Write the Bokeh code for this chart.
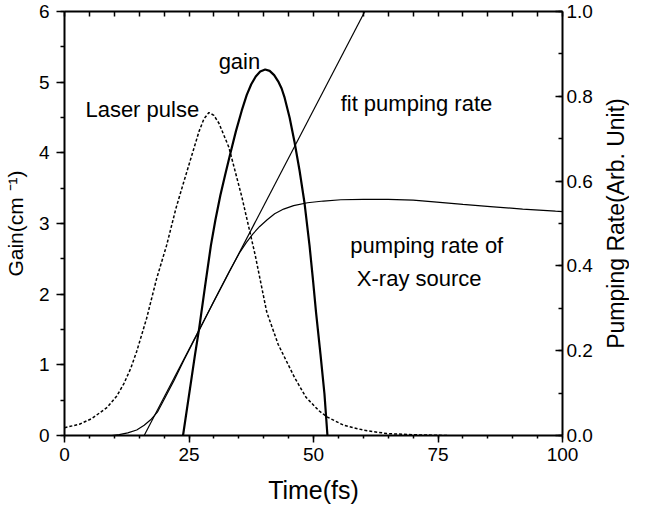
from bokeh.plotting import figure
from bokeh.layouts import row
from bokeh.models import (Range1d, LinearAxis, SingleIntervalTicker, FixedTicker,
                          NumeralTickFormatter, Label, Title)
from bokeh.embed import file_html
from bokeh.resources import INLINE

# ---- data ----
laser_t = [0, 3, 5.5, 8.6, 10.5, 11.9, 13.3, 14.5, 16.5, 18.5, 20.5, 22.4, 24, 25.5, 27, 28, 29,
           30, 31, 33, 35.6, 38.3, 40.6, 42.9, 46.2, 48.5, 51.1, 52.8, 56.1, 60.1, 64.7, 70, 77]
laser_gain = [0.11, 0.16, 0.24, 0.40, 0.56, 0.73, 0.95, 1.19, 1.66, 2.22, 2.69, 3.22, 3.6, 3.95, 4.3,
              4.48, 4.57, 4.53, 4.42, 4.08, 3.38, 2.55, 1.75, 1.29, 0.82, 0.54, 0.35, 0.26, 0.144,
              0.075, 0.028, 0.01, 0.0]

gain_t = [23.8, 24.6, 25.4, 26.2, 27.05, 28.2, 29.4, 30.3, 31.3, 32.3, 33.3, 34.4, 35.6, 36.6,
          37.5, 38.4, 39.3, 40.3, 41.2, 42.1, 43.0, 43.6, 44.2, 45.2, 46.2, 47.2, 48.2, 49.2,
          49.9, 50.5, 51.4, 52.2, 52.8]
gain_val = [0.0, 0.38, 0.76, 1.14, 1.52, 2.1, 2.69, 3.05, 3.4, 3.70, 3.99, 4.3, 4.6, 4.82,
            4.97, 5.08, 5.15, 5.18, 5.16, 5.1, 5.0, 4.91, 4.78, 4.5, 4.15, 3.75, 3.29, 2.69,
            2.2, 1.75, 1.15, 0.59, 0.0]

pump_t = [9.5, 11, 12.7, 14.5, 16, 17.3, 18.65, 20, 22, 24, 26.9, 30, 33, 35.2, 36.5, 37.8,
          39.2, 40.7, 42.2, 44, 46, 48.8, 52, 55.5, 60, 65, 70, 74.2, 80, 85.5, 92, 98.6, 100]
pump_val = [0.0, 0.002, 0.0063, 0.013, 0.024, 0.037, 0.055, 0.085, 0.13, 0.178, 0.245, 0.317,
            0.385, 0.432, 0.455, 0.475, 0.493, 0.509, 0.523, 0.534, 0.542, 0.549, 0.553, 0.556,
            0.557, 0.557, 0.555, 0.551, 0.545, 0.540, 0.534, 0.529, 0.528]

fit_t = [16.0, 60.3]
fit_val = [0.0, 1.0]

top_ticks = [0, 5, 10, 15, 20, 25, 30, 35, 40, 45, 50, 55, 60, 65, 70, 75, 80, 85, 90, 95, 100]

FONT = "Liberation Sans"
TOP, BOTTOM = 11, 74

p = figure(width=595, height=509, output_backend="svg", toolbar_location=None,
           x_range=Range1d(0, 100), y_range=Range1d(0, 6),
           min_border_left=59, min_border_right=31, min_border_top=TOP, min_border_bottom=BOTTOM,
           background_fill_color="white", border_fill_color="white")
p.extra_y_ranges = {"pump": Range1d(0, 1)}
p.grid.visible = False
p.outline_line_color = None


def style(ax, tin, tout, size="19px"):
    ax.axis_line_width = 2
    ax.axis_line_color = "black"
    ax.major_tick_line_width = 1.5
    ax.minor_tick_line_width = 1.5
    ax.major_tick_line_color = "black"
    ax.minor_tick_line_color = "black"
    ax.major_tick_in = tin
    ax.major_tick_out = tout
    ax.minor_tick_in = tin // 2
    ax.minor_tick_out = tout // 2
    ax.major_label_text_font = FONT
    ax.major_label_text_font_size = size
    ax.major_label_text_color = "black"
    ax.axis_label_text_font = FONT
    ax.axis_label_text_font_style = "normal"
    ax.axis_label_text_color = "black"


xb = p.xaxis[0]
xb.ticker = SingleIntervalTicker(interval=25, num_minor_ticks=5)
style(xb, 0, 7)
xb.major_label_standoff = 5
xb.axis_label = "Time(fs)"
xb.axis_label_text_font_size = "25px"
xb.axis_label_standoff = 12

yl = p.yaxis[0]
yl.ticker = SingleIntervalTicker(interval=1, num_minor_ticks=2)
style(yl, 0, 8)
yl.major_label_standoff = 7
yl.axis_label = "Gain(cm \u207b\u00b9)"
yl.axis_label_text_font_size = "21px"
yl.axis_label_standoff = 9

# top frame edge: tick marks only, no labels
xt = LinearAxis(ticker=FixedTicker(ticks=[], minor_ticks=top_ticks))
style(xt, 0, 0)
xt.minor_tick_in = 5
xt.minor_tick_out = 0
xt.major_label_standoff = 0
p.add_layout(xt, "above")

yr = LinearAxis(y_range_name="pump",
                ticker=SingleIntervalTicker(interval=0.2, num_minor_ticks=2),
                formatter=NumeralTickFormatter(format="0.0"))
style(yr, 7, 0)
yr.minor_tick_in = 4
yr.major_label_standoff = 4
p.add_layout(yr, "right")

# ---- curves ----
p.line(laser_t, laser_gain, line_color="black", line_width=1.5, line_dash="3 2")
p.line(gain_t, gain_val, line_color="black", line_width=2.2)
p.line(pump_t, pump_val, line_color="black", line_width=1.2, y_range_name="pump")
p.line(fit_t, fit_val, line_color="black", line_width=1.2, y_range_name="pump")

# ---- annotations ----
def note(x, y, txt, size="22px"):
    p.add_layout(Label(x=x, y=y, text=txt, text_font=FONT, text_font_size=size,
                       text_color="black", text_baseline="alphabetic", text_align="left"))

note(4.2, 4.62, "Laser pulse")
note(30.95, 5.29, "gain")
note(55.45, 4.70, "fit pumping rate")
note(57.4, 2.685, "pumping rate of")
note(58.7, 2.22, "X-ray source")

# ---- right-hand axis title (reads bottom-to-top, like the reference) ----
p2 = figure(width=34, height=509, output_backend="svg", toolbar_location=None,
            x_axis_location=None, y_axis_location=None,
            min_border_left=33, min_border_right=0, min_border_top=TOP, min_border_bottom=BOTTOM,
            background_fill_color="white", border_fill_color="white")
p2.outline_line_color = None
p2.grid.visible = False
p2.add_layout(Title(text="Pumping Rate(Arb. Unit)", align="center", text_font=FONT,
                    text_font_size="23px", text_font_style="normal", text_color="black",
                    standoff=0), "left")

open("out.html", "w").write(file_html(row(p, p2, spacing=0), INLINE))
